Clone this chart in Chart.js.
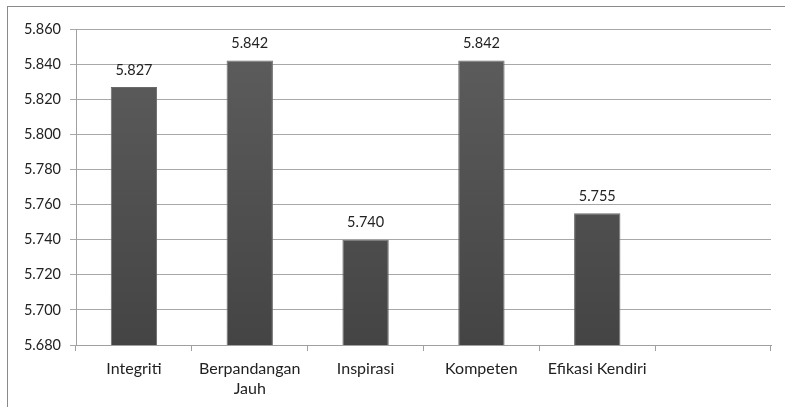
<!DOCTYPE html>
<html>
<head>
<meta charset="utf-8">
<script src="https://cdn.jsdelivr.net/npm/chart.js@4/dist/chart.umd.min.js"></script>
<style>
  html, body { margin: 0; padding: 0; background: #fff; }
  #wrap { position: relative; width: 785px; height: 407px; overflow: hidden; }
  #frame { position: absolute; left: 7px; top: 6px; width: 800px; height: 420px; border-left: 1px solid #8a8a8a; border-top: 1px solid #8a8a8a; }
  canvas { position: absolute; left: 0; top: 0; }
</style>
</head>
<body>
<div id="wrap">
  <div id="frame"></div>
  <canvas id="chart" width="785" height="407"></canvas>
</div>
<script>
const categories = ['Integriti', ['Berpandangan', 'Jauh'], 'Inspirasi', 'Kompeten', 'Efikasi Kendiri', ''];
const scores = [5.827, 5.842, 5.740, 5.842, 5.755, null];
const yMin = 5.68;
const yMax = 5.86;
const yStep = 0.02;

const fontFamily = 'Lato, "Open Sans", sans-serif';

// value labels above each bar
const valueLabels = {
  id: 'valueLabels',
  afterDatasetsDraw(chart) {
    const ctx = chart.ctx;
    const meta = chart.getDatasetMeta(0);
    ctx.save();
    ctx.font = '14.5px ' + fontFamily;
    ctx.fillStyle = '#222';
    ctx.textAlign = 'center';
    ctx.textBaseline = 'middle';
    meta.data.forEach((bar, i) => {
      if (scores[i] == null) return;
      ctx.fillText(scores[i].toFixed(3), bar.x, bar.y - 17);
    });
    ctx.restore();
  }
};

function barFill(context) {
  const chart = context.chart;
  const area = chart.chartArea;
  if (!area) return '#505050';
  const g = chart.ctx.createLinearGradient(0, area.top, 0, area.bottom);
  g.addColorStop(0, '#5e5e5e');
  g.addColorStop(1, '#444444');
  return g;
}

new Chart(document.getElementById('chart'), {
  type: 'bar',
  data: {
    labels: categories,
    datasets: [{
      data: scores,
      backgroundColor: barFill,
      borderColor: '#6a6a6a',
      borderWidth: 1,
      barPercentage: 0.4,
      categoryPercentage: 1.0,
    }],
  },
  options: {
    responsive: false,
    animation: false,
    layout: { padding: { left: 0, top: 29, right: 14, bottom: 0 } },
    plugins: {
      legend: { display: false },
      tooltip: { enabled: false },
    },
    scales: {
      x: {
        afterFit: (scale) => { scale.height = 62; },
        grid: { drawOnChartArea: false, drawTicks: true, tickLength: 6, color: '#a0a0a0', offset: true },
        border: { color: '#a0a0a0' },
        ticks: { color: '#222', padding: 7, font: { family: fontFamily, size: 16, lineHeight: 1.3 }, maxRotation: 0, autoSkip: false },
      },
      y: {
        min: yMin,
        max: yMax,
        afterFit: (scale) => { scale.width = 76; },
        grid: { color: '#a8a8a8', tickLength: 6, drawTicks: true },
        border: { color: '#a0a0a0' },
        ticks: {
          stepSize: yStep,
          color: '#222',
          padding: 9,
          font: { family: fontFamily, size: 14.5 },
          callback: (v) => v.toFixed(3),
        },
      },
    },
  },
  plugins: [valueLabels],
});
</script>
</body>
</html>
